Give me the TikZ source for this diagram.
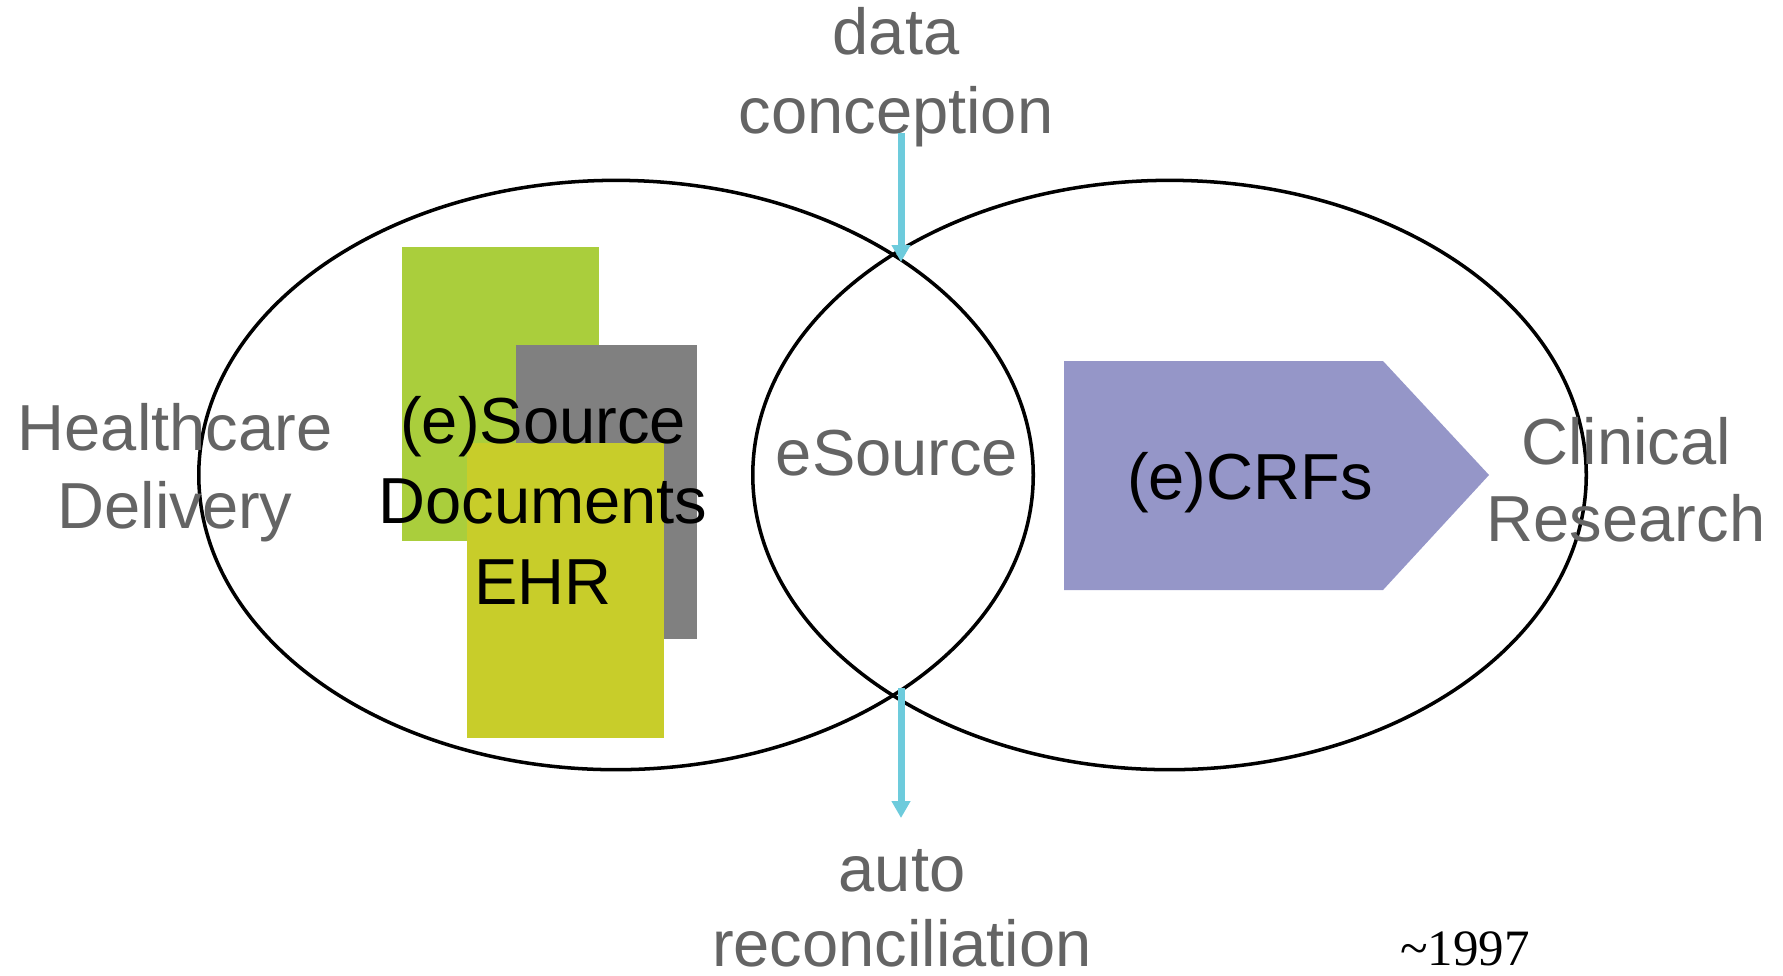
\documentclass[tikz,border=0pt]{standalone}
\usepackage{fontspec}
\setmainfont{Liberation Sans}
\newfontfamily\yearfont{Liberation Serif}
\usetikzlibrary{arrows.meta}
\definecolor{lgreen}{RGB}{170,206,60}
\definecolor{ygreen}{RGB}{200,205,42}
\definecolor{boxgray}{RGB}{128,128,128}
\definecolor{crfpurple}{RGB}{149,150,200}
\definecolor{labelgray}{RGB}{100,100,100}
\definecolor{flowcyan}{RGB}{109,203,220}
\tikzset{
  docbox/.style={draw=none, minimum height=2.94cm, inner sep=0pt},
  graylabel/.style={text=labelgray, align=center, anchor=base, inner sep=0pt,
    font=\fontsize{18.5}{22.2}\selectfont},
  blacklabel/.style={text=black, align=center, anchor=base, inner sep=0pt},
  circ/.style={draw=black, line width=1pt},
  flow/.style={draw=flowcyan, line width=2pt,
    -{Triangle[width=0.18cm, length=0.17cm]}},
}
\begin{document}
\begin{tikzpicture}[x=0.01cm, y=-0.01cm]
\useasboundingbox (0,0) rectangle (1783,975);
% document boxes
\node[docbox, fill=lgreen, minimum width=1.97cm] (green) at (500.5,394) {};
\node[docbox, fill=boxgray, minimum width=1.81cm] (gray) at (606.5,492) {};
\node[docbox, fill=ygreen, minimum width=1.96cm] (yellow) at (565.5,590.5) {};
% CRF arrow shape
\fill[crfpurple] (1064,361) -- (1383,361) -- (1489,475) -- (1383,590) -- (1064,590) -- cycle;
% ellipses
\draw[circ] (616,475) ellipse [x radius=4.17cm, y radius=2.945cm];
\draw[circ] (1169.5,475) ellipse [x radius=4.165cm, y radius=2.945cm];
% labels (base anchor = baseline of last line)
\node[blacklabel, font=\fontsize{18.5}{22.76}\selectfont] (docs) at (543,604) {(e)Source\\Documents\\EHR};
\node[blacklabel, font=\fontsize{18.5}{22}\selectfont] (crfs) at (1250,499) {(e)CRFs};
\node[graylabel, font=\fontsize{18.5}{22.05}\selectfont] (hd) at (175,528) {Healthcare\\Delivery};
\node[graylabel] (es) at (897,475) {eSource};
\node[graylabel, font=\fontsize{18.5}{22.1}\selectfont] (cr) at (1626,541.7) {Clinical\\Research};
\node[graylabel] (dc) at (896,133) {data\\conception};
\node[graylabel, font=\fontsize{18.5}{21.3}\selectfont] (ar) at (902,966.7) {auto\\reconciliation};
\node[blacklabel, font=\yearfont\fontsize{14.5}{17}\selectfont] (yr) at (1465,965) {\textasciitilde1997};
% flows
\coordinate (dcstart) at (901,133);
\coordinate (dcend) at (901,262);
\coordinate (arstart) at (901,688);
\coordinate (arend) at (901,818);
\draw[flow] (dcstart) -- (dcend);
\draw[flow] (arstart) -- (arend);
\end{tikzpicture}
\end{document}
